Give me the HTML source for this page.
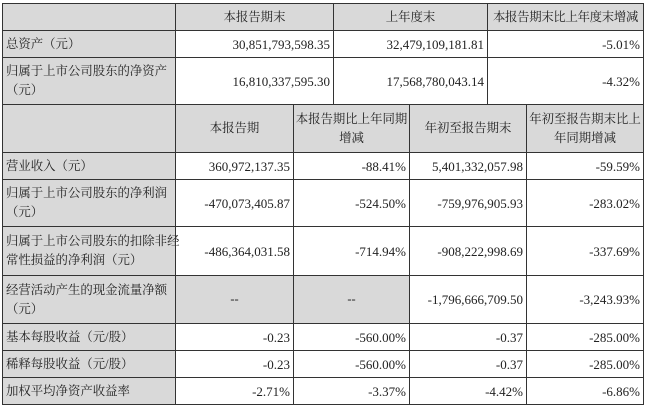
<!DOCTYPE html>
<html><head><meta charset="utf-8"><style>
body{margin:0;width:648px;height:406px;background:#fff;position:relative;overflow:hidden;font-family:"Liberation Serif","Noto Serif CJK SC",serif;font-size:13px;color:#222}
.c{position:absolute;box-sizing:border-box;border:1px solid #333;display:flex;align-items:center;line-height:19px;padding:0 3px;white-space:nowrap}
.g{background:#d9d9d9;font-size:12.4px;padding:0 1px 0 3px}
.r{justify-content:flex-end;text-align:right}
.m{justify-content:center;text-align:center;padding:0}
</style></head><body>
<div class="c g" style="left:2px;top:3px;width:174px;height:28px"></div>
<div class="c g m" style="left:175px;top:3px;width:159px;height:28px">本报告期末</div>
<div class="c g m" style="left:333px;top:3px;width:155px;height:28px">上年度末</div>
<div class="c g m" style="left:487px;top:3px;width:157px;height:28px;letter-spacing:-0.3px">本报告期末比上年度末增减</div>

<div class="c g" style="left:2px;top:30px;width:174px;height:28px">总资产（元）</div>
<div class="c r" style="left:175px;top:30px;width:159px;height:28px">30,851,793,598.35</div>
<div class="c r" style="left:333px;top:30px;width:155px;height:28px">32,479,109,181.81</div>
<div class="c r" style="left:487px;top:30px;width:157px;height:28px">-5.01%</div>

<div class="c g" style="left:2px;top:57px;width:174px;height:48px">归属于上市公司股东的净资产<br>（元）</div>
<div class="c r" style="left:175px;top:57px;width:159px;height:48px">16,810,337,595.30</div>
<div class="c r" style="left:333px;top:57px;width:155px;height:48px">17,568,780,043.14</div>
<div class="c r" style="left:487px;top:57px;width:157px;height:48px">-4.32%</div>

<div class="c g" style="left:2px;top:104px;width:174px;height:49px"></div>
<div class="c g m" style="left:175px;top:104px;width:119px;height:49px">本报告期</div>
<div class="c g m" style="left:293px;top:104px;width:117px;height:49px">本报告期比上年同期<br>增减</div>
<div class="c g m" style="left:409px;top:104px;width:118px;height:49px">年初至报告期末</div>
<div class="c g m" style="left:526px;top:104px;width:118px;height:49px">年初至报告期末比上<br>年同期增减</div>

<div class="c g" style="left:2px;top:152px;width:174px;height:28px">营业收入（元）</div>
<div class="c r" style="left:175px;top:152px;width:119px;height:28px">360,972,137.35</div>
<div class="c r" style="left:293px;top:152px;width:117px;height:28px">-88.41%</div>
<div class="c r" style="left:409px;top:152px;width:118px;height:28px">5,401,332,057.98</div>
<div class="c r" style="left:526px;top:152px;width:118px;height:28px">-59.59%</div>

<div class="c g" style="left:2px;top:179px;width:174px;height:48px">归属于上市公司股东的净利润<br>（元）</div>
<div class="c r" style="left:175px;top:179px;width:119px;height:48px">-470,073,405.87</div>
<div class="c r" style="left:293px;top:179px;width:117px;height:48px">-524.50%</div>
<div class="c r" style="left:409px;top:179px;width:118px;height:48px">-759,976,905.93</div>
<div class="c r" style="left:526px;top:179px;width:118px;height:48px">-283.02%</div>

<div class="c g" style="left:2px;top:226px;width:174px;height:50px">归属于上市公司股东的扣除非经<br>常性损益的净利润（元）</div>
<div class="c r" style="left:175px;top:226px;width:119px;height:50px">-486,364,031.58</div>
<div class="c r" style="left:293px;top:226px;width:117px;height:50px">-714.94%</div>
<div class="c r" style="left:409px;top:226px;width:118px;height:50px">-908,222,998.69</div>
<div class="c r" style="left:526px;top:226px;width:118px;height:50px">-337.69%</div>

<div class="c g" style="left:2px;top:275px;width:174px;height:49px">经营活动产生的现金流量净额<br>（元）</div>
<div class="c g m" style="left:175px;top:275px;width:119px;height:49px">--</div>
<div class="c g m" style="left:293px;top:275px;width:117px;height:49px">--</div>
<div class="c r" style="left:409px;top:275px;width:118px;height:49px">-1,796,666,709.50</div>
<div class="c r" style="left:526px;top:275px;width:118px;height:49px">-3,243.93%</div>

<div class="c g" style="left:2px;top:323px;width:174px;height:28px">基本每股收益（元/股）</div>
<div class="c r" style="left:175px;top:323px;width:119px;height:28px">-0.23</div>
<div class="c r" style="left:293px;top:323px;width:117px;height:28px">-560.00%</div>
<div class="c r" style="left:409px;top:323px;width:118px;height:28px">-0.37</div>
<div class="c r" style="left:526px;top:323px;width:118px;height:28px">-285.00%</div>

<div class="c g" style="left:2px;top:350px;width:174px;height:28px">稀释每股收益（元/股）</div>
<div class="c r" style="left:175px;top:350px;width:119px;height:28px">-0.23</div>
<div class="c r" style="left:293px;top:350px;width:117px;height:28px">-560.00%</div>
<div class="c r" style="left:409px;top:350px;width:118px;height:28px">-0.37</div>
<div class="c r" style="left:526px;top:350px;width:118px;height:28px">-285.00%</div>

<div class="c g" style="left:2px;top:377px;width:174px;height:28px">加权平均净资产收益率</div>
<div class="c r" style="left:175px;top:377px;width:119px;height:28px">-2.71%</div>
<div class="c r" style="left:293px;top:377px;width:117px;height:28px">-3.37%</div>
<div class="c r" style="left:409px;top:377px;width:118px;height:28px">-4.42%</div>
<div class="c r" style="left:526px;top:377px;width:118px;height:28px">-6.86%</div>
</body></html>
